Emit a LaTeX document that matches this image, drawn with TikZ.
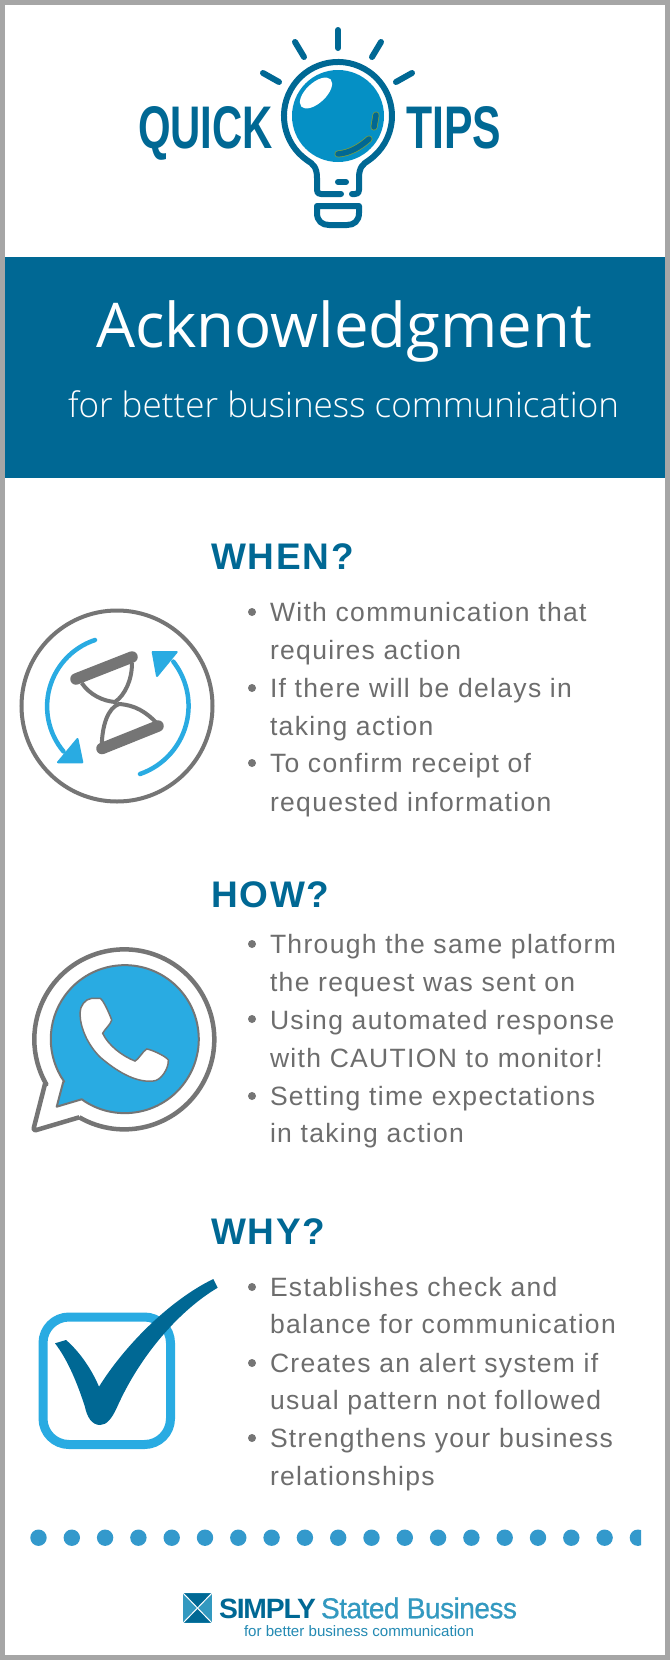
\documentclass[tikz,border=0pt]{standalone}
\usepackage{fontspec}
\usepackage{graphicx}
\setmainfont{Liberation Sans}
\newfontfamily\lightf{Open Sans Light}
\newfontfamily\titlef{Open Sans}
\newfontfamily\bodyf[LetterSpace=5]{Liberation Sans}
\newfontfamily\headf[LetterSpace=5,BoldFont={Liberation Sans Bold}]{Liberation Sans}
\newfontfamily\logof[LetterSpace=-2,FakeBold=0.6]{Liberation Sans}
\newfontfamily\simplyf[LetterSpace=-4,BoldFont={Liberation Sans Bold}]{Liberation Sans}
\definecolor{deep}{HTML}{006894}
\definecolor{sky}{HTML}{29ABE2}
\definecolor{bulb}{HTML}{0590C5}
\definecolor{ash}{HTML}{757575}
\definecolor{ink}{HTML}{6D6D6D}
\definecolor{edge}{HTML}{A6A6A6}
\definecolor{dot}{HTML}{3399CC}
\definecolor{logoblue}{HTML}{3399C0}
\definecolor{olive}{HTML}{7F9F3A}
\tikzset{
  txt/.style={anchor=base west,inner sep=0pt,outer sep=0pt},
  body/.style={txt,text=ink,font=\bodyf\fontsize{26.5}{30}\selectfont},
  head/.style={txt,text=deep,font=\headf\bfseries\fontsize{37}{40}\selectfont},
  bul/.style={fill=ash,circle,inner sep=0pt,minimum size=8pt},
  ray/.style={draw=deep,line width=6pt,line cap=round},
  grey/.style={draw=ash,line width=4pt},
  blu/.style={draw=sky,line width=4.5pt,line cap=round},
}
\begin{document}
\begin{tikzpicture}[x=1pt,y=1pt,yscale=-1]
\useasboundingbox (0,0) rectangle (670,1660);
\fill[edge] (0,0) rectangle (670,1660);
\fill[white] (5,5) rectangle (665,1655);
% bulb
\draw[ray] (338,30) -- (338,48);
\draw[ray] (295,42) -- (304,57);
\draw[ray] (381,42) -- (372,57);
\draw[ray] (263,73) -- (279,82);
\draw[ray] (412,73) -- (396,82);
\fill[bulb] (338,116) circle[radius=46];
\draw[deep,line width=6pt,line cap=round,line join=round]
  (341,194) -- (321,194) .. controls (318,194) and (317,193) .. (317,190) -- (317,178)
  .. controls (317,167) and (313,164) .. (307,160.2)
  arc[start angle=125,end angle=415,radius=54]
  .. controls (363,164) and (359,167) .. (359,178) -- (359,190)
  .. controls (359,193) and (358,194) .. (355,194) -- (352,194);
\draw[ray] (338,182) -- (346,182);
\draw[deep,line width=6pt,line join=round]
  (317,206) -- (359,206) -- (359,213) .. controls (359,221) and (354,225) .. (347,225)
  -- (329,225) .. controls (322,225) and (317,221) .. (317,213) -- cycle;
\fill[white,rotate around={-43:(316,93)}] (316,93) ellipse[x radius=20,y radius=10];
\draw[olive,line width=7pt,line cap=round] (376,115) -- (374,127);
\draw[deep,line width=5.5pt,line cap=round] (376,115) -- (374,127);
\draw[olive,line width=7pt,line cap=round] (338,154) .. controls (350,153) and (360,147) .. (369,139);
\draw[deep,line width=5.5pt,line cap=round] (338,154) .. controls (350,153) and (360,147) .. (369,139);
\node[txt,text=deep] (quick) at (138,148) {\resizebox{135pt}{42pt}{\bfseries QUICK}};
\node[txt,text=deep] (tips) at (406,148) {\resizebox{95pt}{42pt}{\bfseries TIPS}};
% banner
\fill[deep] (5,257) rectangle (665,478);
\node[txt,text=white,font=\titlef\fontsize{63}{70}\selectfont] (title) at (96,347) {\resizebox{496pt}{!}{Acknowledgment}};
\node[txt,text=white,font=\lightf\fontsize{35}{40}\selectfont] (subtitle) at (68,417) {\resizebox{551pt}{!}{for better business communication}};
% when
\node[head] (hwhen) at (211,569) {WHEN?};
\node[bul] (b1) at (252,612) {};
\node[body] (w1) at (270,621) {With communication that};
\node[body] (w2) at (270,659) {requires action};
\node[bul] (b2) at (252,688) {};
\node[body] (w3) at (270,697) {If there will be delays in};
\node[body] (w4) at (270,735) {taking action};
\node[bul] (b3) at (252,763) {};
\node[body] (w5) at (270,772) {To confirm receipt of};
\node[body] (w6) at (270,811) {requested information};
% how
\node[head] (hhow) at (211,907) {HOW?};
\node[bul] (b4) at (252,944) {};
\node[body] (h1) at (270,953) {Through the same platform};
\node[body] (h2) at (270,991) {the request was sent on};
\node[bul] (b5) at (252,1019) {};
\node[body] (h3) at (270,1029) {Using automated response};
\node[body] (h4) at (270,1067) {with CAUTION to monitor!};
\node[bul] (b6) at (252,1096) {};
\node[body] (h5) at (270,1105) {Setting time expectations};
\node[body] (h6) at (270,1142) {in taking action};
% why
\node[head] (hwhy) at (211,1244) {WHY?};
\node[bul] (b7) at (252,1287) {};
\node[body] (y1) at (270,1296) {Establishes check and};
\node[body] (y2) at (270,1333) {balance for communication};
\node[bul] (b8) at (252,1363) {};
\node[body] (y3) at (270,1372) {Creates an alert system if};
\node[body] (y4) at (270,1409) {usual pattern not followed};
\node[bul] (b9) at (252,1438) {};
\node[body] (y5) at (270,1447) {Strengthens your business};
\node[body] (y6) at (270,1485) {relationships};
% hourglass icon
\draw[grey] (117,706) circle[radius=95.5];
\draw[blu] (95,640) arc[start angle=251.6,end angle=140,radius=70];
\fill[sky,draw=sky,line width=2pt,line join=round] (58,762.3) -- (82.3,762.3) -- (77.5,739) -- cycle;
\draw[blu] (140,774) arc[start angle=71,end angle=-38,radius=72];
\fill[sky,draw=sky,line width=2pt,line join=round] (152.7,652) -- (176.7,652) -- (157,676) -- cycle;
\draw[ash,line width=4pt] (81.7,683) .. controls (90,695) and (103,701) .. (115,702) .. controls (125,695) and (132,680) .. (132,663);
\draw[ash,line width=4pt] (101.7,747) .. controls (102,725) and (108,708) .. (119,704) .. controls (135,705) and (146,712) .. (156.7,723);
\draw[ash,line width=11.5pt,line cap=round] (76,679) -- (132,657);
\draw[ash,line width=11.5pt,line cap=round] (102,748.5) -- (158,726);
% phone icon
\draw[ash,line width=4.5pt,fill=white,line join=round]
  (79.3,1117.3) arc[start angle=120,end angle=-210,radius=90] -- (45,1084)
  [rounded corners=3pt] -- (33,1131) -- (79.3,1117.3);
\draw[ash,line width=2pt,fill=sky,line join=round]
  (81.7,1099.3) arc[start angle=125.6,end angle=-215,radius=74] -- (63.3,1081.7) -- (56.7,1106.7) -- cycle;
\draw[ash,line width=1.5pt,fill=white]
  (91.7,998.3) -- (100,998.3) .. controls (103,999) and (110,1015) .. (111.7,1020)
  .. controls (111,1024) and (104,1030) .. (102.7,1033.3)
  .. controls (108,1045) and (122,1056) .. (135,1061)
  .. controls (138,1060) and (143,1051) .. (146.7,1049)
  .. controls (150,1049) and (166,1056) .. (168.3,1060)
  .. controls (169,1068) and (161,1081) .. (153,1081)
  .. controls (135,1083) and (115,1070) .. (100,1057)
  .. controls (88,1045) and (80,1028) .. (80,1013)
  .. controls (80,1006) and (85,999) .. (91.7,998.3) -- cycle;
% check icon
\draw[sky,line width=9pt,rounded corners=26pt] (43,1317) rectangle (170.5,1444.5);
\fill[deep] (55,1343.3) -- (66,1340) .. controls (80,1352) and (92,1370) .. (99,1386.7)
  .. controls (125,1345) and (170,1300) .. (213.3,1279) -- (217.7,1287.7)
  .. controls (180,1310) and (140,1355) .. (116.7,1408)
  .. controls (112,1418) and (107,1425) .. (100,1425)
  .. controls (92,1425) and (87,1417) .. (85,1407)
  .. controls (78,1385) and (68,1360) .. (55,1343.3) -- cycle;
% dots
\begin{scope}
\clip (20,1520) rectangle (641,1556);
\foreach \i in {0,...,18} \fill[dot] ({38.5+33.3*\i},1537.7) circle[radius=8.2];
\end{scope}
% logo
\fill[logoblue] (183.3,1593.3) rectangle (211.7,1622.7);
\fill[deep] (183.3,1593.3) -- (211.7,1593.3) -- (197.5,1608) -- cycle;
\fill[deep] (183.3,1622.7) -- (211.7,1622.7) -- (197.5,1608) -- cycle;
\draw[white,line width=1pt] (183.3,1593.3) -- (211.7,1622.7);
\draw[white,line width=1pt] (211.7,1593.3) -- (183.3,1622.7);
\node[txt,text=deep] (simply) at (219,1618.3) {\resizebox{97pt}{19.5pt}{\simplyf\bfseries\fontsize{26}{28}\selectfont SIMPLY}};
\node[txt,text=logoblue] (stated) at (321,1618.3) {\resizebox{196pt}{21pt}{\logof\fontsize{26}{28}\selectfont Stated Business}};
\node[txt,text=logoblue!70!deep,font=\rmfamily\fontsize{15.1}{16}\selectfont] (tag) at (244,1636.7) {for better business communication};
\end{tikzpicture}
\end{document}
